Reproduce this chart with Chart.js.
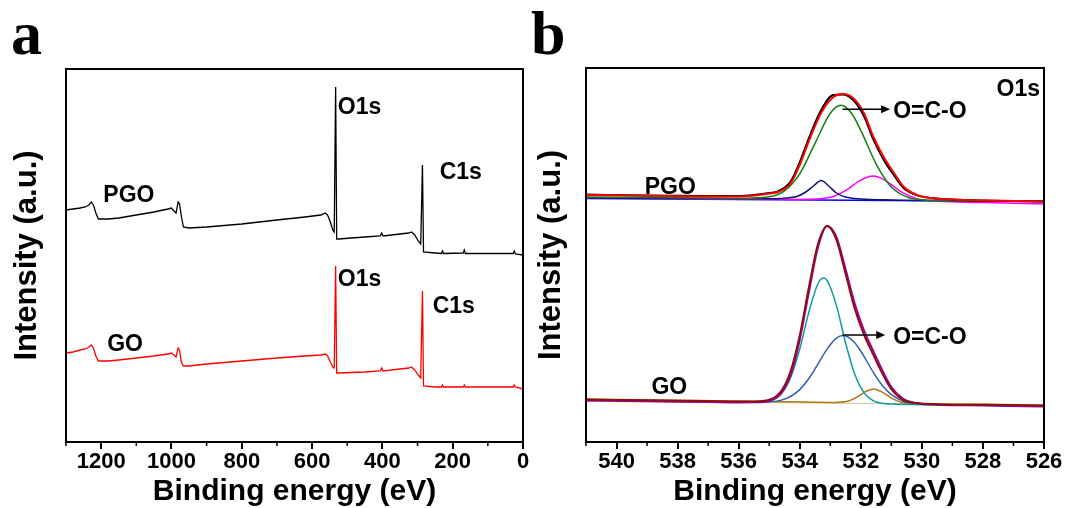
<!DOCTYPE html>
<html>
<head>
<meta charset="utf-8">
<script src="https://cdn.jsdelivr.net/npm/chart.js@4.4.1/dist/chart.umd.min.js"></script>
<style>
  html, body { margin: 0; padding: 0; background: #fff; }
  #wrap { position: relative; width: 1067px; height: 508px; overflow: hidden; }
  .panel { position: absolute; top: 0; height: 508px; }
  #boxA { left: 0; width: 540px; }
  #boxB { left: 530px; width: 537px; }
  .tag { position: absolute; font-family: "Liberation Serif", "Times New Roman", serif;
         font-weight: bold; font-size: 62px; line-height: 62px; color: #000; }
</style>
</head>
<body>
<div id="wrap">
  <div class="panel" id="boxA"><canvas id="chartA"></canvas></div>
  <div class="panel" id="boxB"><canvas id="chartB"></canvas></div>
  <div class="tag" style="left:11px;top:2px">a</div>
  <div class="tag" style="left:531px;top:2px">b</div>
</div>
<script>
// ---- panel a: survey spectra (binding energy in eV, intensity in a.u.)
const surveyE = [1300,1280,1260,1245,1235,1228,1222,1215,1208,1180,1150,1100,1050,1010,1000,993,987,981,977,972,
  966,950,900,800,700,620,575,562,556,548,541,537,533,530,525,450,406,402,398,350,
  325,317,308,298,291,286,283,250,232,229,226,170,167,164,100,28,25,22,0]
const surveyPgo = [232,233,234,235,237,240,237,229,223,223,224,227,230,233,234,231,229,240,238,226,
  215,214,215,218,222,225,227,229,227,220,212,210,355,203,203,205,206,209,206,208,
  209,210,207,201,198,277,190,189,188.5,191,188.5,189,192,188.5,188.5,188.5,191,188,187]
const surveyGo = [89,90,92,93,95,97,94,86,81,81,82,84,86,88,89,87,85,94,92,80,
  76,76,78,81,84,86,87,88,86,80,75,74,176,69,69,70,71,74,71,73,
  74,75,72,67,64,151,56,55,55,57,55,55,57,55,55,55,57,55,53]
const ticksA = [1200, 1000, 800, 600, 400, 200, 0]
const minorA = [1300, 1100, 900, 700, 500, 300, 100]

// ---- panel b: O1s high resolution, PGO (upper) and GO (lower)
const pgoFitE = [541,539,537,536,535.5,535,534.7,534.3,534,533.65,533.3,532.9,532.6,532.25,531.9,531.6,531.25,530.9,530.6,530.2,529.7,529,528,527,526]
const pgoFit = [247,246.2,245.5,245.5,246.5,248.5,250,258.5,277,305,329,345,348,344,329,306,285,268.5,255.5,247.5,244,242.5,241.5,241,240.5]
const pgoRaw = [247.5,246.5,246,246,247,249,251,260.5,280,308,332,347,347.5,342,326,303,282,266,254,247,244,242.5,241.5,241,240.5]
const pgoOcoE = [541,538,536,535,534.5,534,533.5,533,532.65,532.3,532,531.5,531,530.5,530,529,527,526]
const pgoOco = [245,244.2,243.7,245.2,251.1,268.2,298.6,328.8,336.7,328.5,311.6,278.2,255,245.1,242.2,241.2,241,241]
const pgoHiE = [541,536,535,534.5,534.1,533.8,533.55,533.3,533.05,532.8,532.5,532,531,529,526]
const pgoHi = [244,243.2,243.2,243.8,245.5,250,256,261.5,256,249,245,243,242,241.3,240.5]
const pgoLoE = [541,537,534,533,532.5,532,531.6,531.2,530.7,530.2,529.7,528,526]
const pgoLo = [244,243,242.5,244.7,251.4,261.9,265.9,261.7,250.7,243.6,241.2,239.6,238]
const pgoBgE = [541, 526]
const pgoBg = [243.5, 240.5]

const goFitE = [541,539,537,536,535.5,535,534.6,534.3,534,533.7,533.4,533.1,532.8,532.5,532.2,531.9,531.6,531.3,531,530.6,530.2,529.5,528,526]
const goFit = [42.5,41.7,40.9,40.5,40.5,42.2,51.3,70.7,106.6,154.8,198.2,216.1,202.4,168.5,133.5,107.6,87.9,68.9,52.8,41.9,38.9,37.8,37.2,36.5]
const goRaw = [41.5,40.7,40,39.6,39.7,41,49,67,102,150,195,216,205,173,138.5,112,91.5,72,55,43,39,37.3,36.5,35.5]
const goHiE = [541,538,536,535.5,535,534.6,534.3,534,533.7,533.4,533.22,533.1,532.8,532.5,532.2,531.9,531.6,531.3,531,530,528,526]
const goHi = [42,40.8,40,39.9,41.1,48.3,64.2,93,130,158.5,164,161.3,136.6,99.3,67.9,49.4,41.4,38.8,38,37.3,36.7,36]
const goOcoE = [541,538,536,535,534.6,534.3,534,533.7,533.4,533.1,532.8,532.57,532.2,531.9,531.6,531.3,531,530.6,530.2,529.5,528,526]
const goOco = [42,40.8,40,40.2,41.9,45.5,52.4,63.5,78.2,93.1,103.9,106.5,99.3,85.8,70.1,56.7,47.3,40.7,38.3,37.3,36.7,36]
const goLoE = [541,538,535,533,532.4,532.1,531.85,531.58,531.3,531,530.7,530.2,528,526]
const goLo = [43,41.8,40.5,39.6,41.1,45.3,50.3,53.1,49.9,43.8,40,38.6,37.7,36.5]
const goBgE = [541, 526]
const goBg = [40.5, 37.5]

const ticksB = [540, 538, 536, 534, 532, 530, 528, 526]
const minorB = [541, 539, 537, 535, 533, 531, 529, 527]

// annotations: [text, energy, intensity, align]
const notesA = [["PGO", 1121, 246, "center"], ["GO", 1132, 97, "center"],
  ["O1s", 527, 334, "left"], ["O1s", 527, 162, "left"],
  ["C1s", 237, 269, "left"], ["C1s", 257, 135, "left"]]
const notesB = [["PGO", 538.24, 254, "center"], ["GO", 538.27, 54, "center"], ["O1s", 526.13, 352, "right"],
  ["O=C-O", 530.94, 330, "left"], ["O=C-O", 530.94, 104, "left"]]
// arrows: [from energy, intensity, to energy]
const arrowsB = [[532.6, 332.7, 531.04], [532.6, 107, 531.2]]

const FONT = '"Liberation Sans", Arial, sans-serif'
Chart.defaults.font.family = FONT
Chart.defaults.color = "#000"

const pts = (e, v) => e.map((x, i) => ({ x: x, y: v[i] }))

function line(label, e, v, color, width) {
  return { label, data: pts(e, v), borderColor: color, borderWidth: width,
    pointRadius: 0, fill: false, cubicInterpolationMode: "monotone" }
}

function decor(cfg) {
  return {
    id: "decor" + cfg.name,
    afterDatasetsDraw(chart) {
      const { ctx, chartArea: a, scales: { x, y } } = chart
      ctx.save()
      ctx.strokeStyle = "#000"
      ctx.lineWidth = cfg.frame
      ctx.strokeRect(a.left, a.top, a.right - a.left, a.bottom - a.top)
      ctx.lineWidth = 1.5
      cfg.minor.forEach((v) => {
        const px = x.getPixelForValue(v)
        ctx.beginPath()
        ctx.moveTo(px, a.bottom)
        ctx.lineTo(px, a.bottom + 4)
        ctx.stroke()
      })
      ctx.fillStyle = "#000"
      ctx.font = "bold 23px " + FONT
      ctx.textBaseline = "middle"
      cfg.notes.forEach(([t, e, v, al]) => {
        ctx.textAlign = al
        ctx.fillText(t, x.getPixelForValue(e), y.getPixelForValue(v))
      })
      ctx.lineWidth = 1.5
      cfg.arrows.forEach(([e1, v, e2]) => {
        const x1 = x.getPixelForValue(e1), x2 = x.getPixelForValue(e2), py = y.getPixelForValue(v)
        ctx.beginPath()
        ctx.moveTo(x1, py)
        ctx.lineTo(x2 - 6, py)
        ctx.stroke()
        ctx.beginPath()
        ctx.moveTo(x2, py)
        ctx.lineTo(x2 - 9, py - 4)
        ctx.lineTo(x2 - 9, py + 4)
        ctx.closePath()
        ctx.fill()
      })
      ctx.restore()
    }
  }
}

function options(c) {
  return {
    responsive: true,
    maintainAspectRatio: false,
    animation: false,
    layout: { padding: { left: 0, right: c.padRight, top: c.padTop, bottom: 0 } },
    plugins: { legend: { display: false }, tooltip: { enabled: false } },
    scales: {
      x: {
        type: "linear", reverse: true, min: c.xmin, max: c.xmax,
        afterBuildTicks: (s) => { s.ticks = c.ticks.map((v) => ({ value: v })) },
        afterFit: (s) => { s.height = 66 },
        ticks: { autoSkip: false, maxRotation: 0, padding: 0, color: "#000",
          font: { size: 22, weight: "bold" }, callback: (v) => String(v) },
        grid: { display: true, drawOnChartArea: false, drawTicks: true, tickLength: 7,
          color: "#000", lineWidth: 2 },
        border: { display: false },
        title: { display: true, text: "Binding energy (eV)", color: "#000",
          font: { size: 30, weight: "bold", lineHeight: 1 }, padding: { top: 0, bottom: 1 } }
      },
      y: {
        min: 0, max: c.ymax,
        afterFit: (s) => { s.width = c.yWidth },
        ticks: { display: false },
        grid: { display: false },
        border: { display: false },
        title: { display: true, text: "Intensity (a.u.)", color: "#000",
          font: { size: 31, weight: "bold", lineHeight: 1 }, padding: { top: c.titlePad, bottom: 0 } }
      }
    }
  }
}

new Chart(document.getElementById("chartA"), {
  type: "line",
  data: {
    datasets: [
      line("PGO", surveyE, surveyPgo, "#000000", 1.3),
      line("GO", surveyE, surveyGo, "#ff0000", 1.3)
    ].map((d) => Object.assign(d, { cubicInterpolationMode: "default", tension: 0 }))
  },
  options: options({ xmin: 0, xmax: 1300, ticks: ticksA, ymax: 373, padRight: 17, padTop: 69, yWidth: 66, titlePad: 11.5 }),
  plugins: [decor({ name: "A", frame: 2, minor: minorA, notes: notesA, arrows: [] })]
})

new Chart(document.getElementById("chartB"), {
  type: "line",
  data: {
    datasets: [
      line("PGO fit", pgoFitE, pgoFit, "#ff0000", 2),
      line("PGO", pgoFitE, pgoRaw, "#000000", 1.8),
      line("PGO O=C-O", pgoOcoE, pgoOco, "#108010", 1.5),
      line("PGO peak 533.3", pgoHiE, pgoHi, "#101080", 1.5),
      line("PGO peak 531.6", pgoLoE, pgoLo, "#ff00ff", 1.5),
      line("PGO background", pgoBgE, pgoBg, "#0000ff", 1.5),
      line("GO fit", goFitE, goFit, "#8b1010", 2),
      line("GO", goFitE, goRaw, "#a000a0", 2),
      line("GO peak 533.2", goHiE, goHi, "#119c9c", 1.5),
      line("GO O=C-O", goOcoE, goOco, "#3060b0", 1.5),
      line("GO peak 531.6", goLoE, goLo, "#b07818", 1.5),
      line("GO background", goBgE, goBg, "#c8c896", 1.2)
    ]
  },
  options: options({ xmin: 526, xmax: 541, ticks: ticksB, ymax: 374, padRight: 23, padTop: 68, yWidth: 56, titlePad: 5.5 }),
  plugins: [decor({ name: "B", frame: 2, minor: minorB, notes: notesB, arrows: arrowsB })]
})
</script>
</body>
</html>
